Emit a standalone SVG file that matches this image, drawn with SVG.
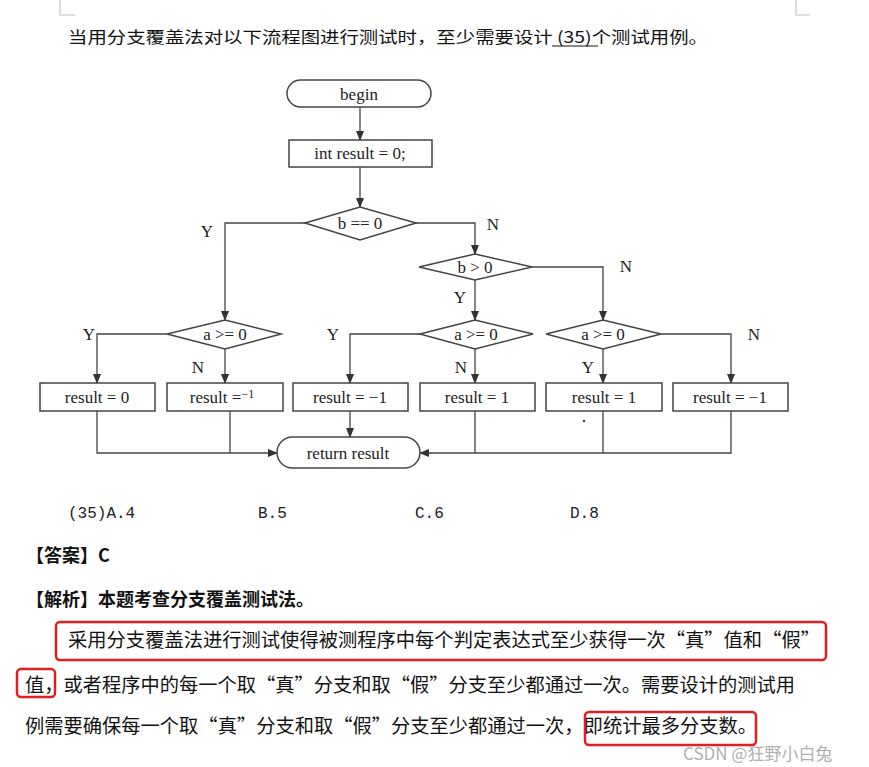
<svg xmlns="http://www.w3.org/2000/svg" width="869" height="767" viewBox="0 0 869 767">
<defs>
<marker id="ah" markerWidth="10" markerHeight="8" refX="9" refY="4" orient="auto" markerUnits="userSpaceOnUse"><path d="M0,0 L10,4 L0,8 Z" fill="#333"/></marker>
<style>
.s{fill:#fff;stroke:#444;stroke-width:1.5}
.l{fill:none;stroke:#444;stroke-width:1.3}
.t{font-family:"Liberation Serif",serif;font-size:17px;fill:#222;text-anchor:middle}
.c{font-family:"Noto Sans CJK SC",sans-serif;fill:#111}
.r{fill:none;stroke:#e02020;stroke-width:2.5}
</style>
</defs>
<rect width="869" height="767" fill="#fff"/>
<path d="M60,0 V15 H75 M796,0 V15 H810" fill="none" style="stroke:#bbb"/>
<text class="c" x="68" y="43" font-size="16" textLength="640" lengthAdjust="spacingAndGlyphs">当用分支覆盖法对以下流程图进行测试时，至少需要设计 (35)个测试用例。</text>
<line x1="552" y1="46" x2="598" y2="46" stroke="#111" stroke-width="1"/>

<g id="connectors">
<path class="l" d="M360,107 V140" marker-end="url(#ah)"/>
<path class="l" d="M360,167 V207" marker-end="url(#ah)"/>
<path class="l" d="M305,223 H225 V320" marker-end="url(#ah)"/>
<path class="l" d="M416,223 H475 V254" marker-end="url(#ah)"/>
<path class="l" d="M532,267 H603 V320" marker-end="url(#ah)"/>
<path class="l" d="M475,280 V320" marker-end="url(#ah)"/>
<path class="l" d="M167,334 H97 V383" marker-end="url(#ah)"/>
<path class="l" d="M225,349 V383" marker-end="url(#ah)"/>
<path class="l" d="M420,334 H350 V383" marker-end="url(#ah)"/>
<path class="l" d="M475,349 V383" marker-end="url(#ah)"/>
<path class="l" d="M603,349 V383" marker-end="url(#ah)"/>
<path class="l" d="M661,334 H731 V383" marker-end="url(#ah)"/>
<path class="l" d="M97,411 V453 H277" marker-end="url(#ah)"/>
<path class="l" d="M230,411 V453"/>
<path class="l" d="M350,411 V437" marker-end="url(#ah)"/>
<path class="l" d="M731,411 V453 H420" marker-end="url(#ah)"/>
<path class="l" d="M475,411 V453 M603,411 V453"/>
</g>
<g class="t">
<text x="207" y="237">Y</text><text x="493" y="230">N</text><text x="626" y="272">N</text>
<text x="460" y="303">Y</text><text x="89" y="340">Y</text><text x="198" y="373">N</text>
<text x="333" y="340">Y</text><text x="461" y="373">N</text><text x="588" y="373">Y</text><text x="754" y="340">N</text>
</g>
<g id="begin"><rect class="s" x="287" y="80" width="144" height="27" rx="13.5"/><text class="t" x="359" y="100">begin</text></g>
<g id="init"><rect class="s" x="289" y="140" width="143" height="27"/><text class="t" x="360" y="159">int result = 0;</text></g>
<g id="d1"><polygon class="s" points="305,223 360,207 416,223 360,240"/><text class="t" x="360" y="229">b == 0</text></g>
<g id="d2"><polygon class="s" points="419,267 475,254 532,267 475,280"/><text class="t" x="475" y="273">b &gt; 0</text></g>
<g id="d3"><polygon class="s" points="167,334 225,320 281,334 225,349"/><text class="t" x="225" y="340">a &gt;= 0</text></g>
<g id="d4"><polygon class="s" points="420,334 475,320 533,334 475,349"/><text class="t" x="476" y="340">a &gt;= 0</text></g>
<g id="d5"><polygon class="s" points="546,334 603,320 661,334 603,349"/><text class="t" x="603" y="340">a &gt;= 0</text></g>
<g id="b1"><rect class="s" x="40" y="383" width="115" height="28"/><text class="t" x="97" y="403">result = 0</text></g>
<g id="b2"><rect class="s" x="167" y="383" width="116" height="28"/><text class="t" x="222" y="403">result =<tspan font-size="12" dy="-5">−1</tspan></text></g>
<g id="b3"><rect class="s" x="293" y="383" width="115" height="28"/><text class="t" x="350" y="403">result = −1</text></g>
<g id="b4"><rect class="s" x="420" y="383" width="115" height="28"/><text class="t" x="477" y="403">result = 1</text></g>
<g id="b5"><rect class="s" x="546" y="383" width="116" height="28"/><text class="t" x="604" y="403">result = 1</text></g>
<g id="b6"><rect class="s" x="673" y="383" width="115" height="28"/><text class="t" x="730" y="403">result = −1</text></g>
<g id="ret"><rect class="s" x="277" y="437" width="143" height="31" rx="15.5"/><text class="t" x="348" y="459">return result</text></g>
<circle cx="584" cy="421" r="1.2" fill="#444"/>

<g font-family="'Liberation Mono',monospace" font-size="16" fill="#222">
<text x="68" y="518">(35)A.4</text><text x="258" y="518">B.5</text><text x="415" y="518">C.6</text><text x="570" y="518">D.8</text>
</g>
<text class="c" x="26" y="562" font-size="18" font-weight="bold">【答案】C</text>
<text class="c" x="26" y="606" font-size="18" font-weight="bold">【解析】本题考查分支覆盖测试法。</text>
<text class="c" x="68" y="647" font-size="19" textLength="752" lengthAdjust="spacingAndGlyphs">采用分支覆盖法进行测试使得被测程序中每个判定表达式至少获得一次“真”值和“假”</text>
<text class="c" x="25" y="692" font-size="19" textLength="770" lengthAdjust="spacingAndGlyphs">值，或者程序中的每一个取“真”分支和取“假”分支至少都通过一次。需要设计的测试用</text>
<text class="c" x="25" y="733" font-size="19" textLength="732" lengthAdjust="spacingAndGlyphs">例需要确保每一个取“真”分支和取“假”分支至少都通过一次，即统计最多分支数。</text>
<rect class="r" x="56" y="622" width="770" height="38" rx="4"/>
<rect class="r" x="17" y="669" width="38" height="28" rx="4"/>
<rect class="r" x="585" y="712" width="171" height="33" rx="4"/>
<text class="c" x="683" y="760" font-size="17" style="fill:#b0b0b0">CSDN @狂野小白兔</text>
</svg>
